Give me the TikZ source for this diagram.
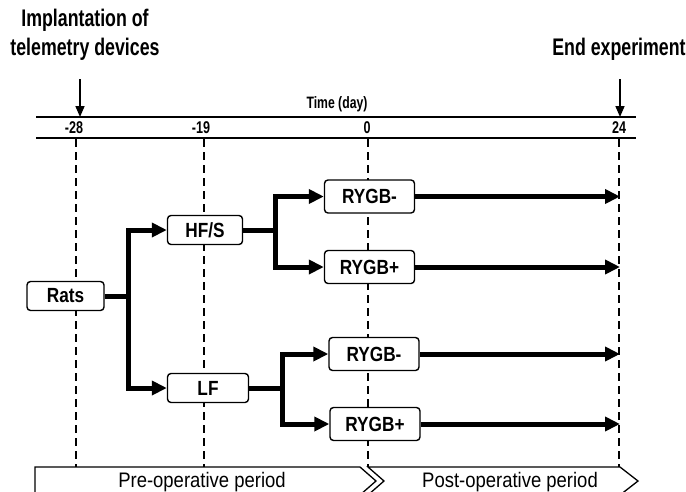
\documentclass[tikz,border=0pt]{standalone}
\usepackage{fontspec}
\setmainfont{Liberation Sans}[FakeStretch=0.84]
\newfontfamily\headfont{Liberation Sans}[FakeStretch=0.74]
\newfontfamily\periodfont{Liberation Sans}[FakeStretch=0.88]
\usetikzlibrary{arrows.meta}
\begin{document}
\begin{tikzpicture}[x=1pt,y=-1pt,
  box/.style={draw,fill=white,line width=1.4pt,rounded corners=3.5pt,font=\bfseries\fontsize{20.5}{20.5}\selectfont,inner sep=0pt},
  smallbox/.style={box,minimum height=29pt},
  rbox/.style={box,minimum width=90pt,minimum height=33pt},
  arr/.style={line width=5pt,-{Triangle[length=15pt,width=14pt]},line join=miter},
  thick5/.style={line width=5pt},
  vdash/.style={dash pattern=on 8pt off 5pt,line width=1.3pt},
  tline/.style={line width=2pt},
  head/.style={font=\headfont\bfseries\fontsize{24}{29}\selectfont,align=center,inner sep=0pt},
  tick/.style={font=\headfont\bfseries\fontsize{17}{17}\selectfont,inner sep=0pt},
  period/.style={font=\periodfont\fontsize{21}{21}\selectfont,inner sep=0pt},
  chev/.style={draw,line width=1.3pt,fill=white}]
\useasboundingbox (0,0) rectangle (686,491);
\clip (0,0) rectangle (686,491);
% timeline
\draw[tline] (36,117) -- (636,117);
\draw[tline] (36,138) -- (636,138);
\node[tick,font=\headfont\bfseries\fontsize{16.5}{16.5}\selectfont] (time) at (337,104) {Time (day)};
\node[tick] (t28) at (74,128) {-28};
\node[tick] (t19) at (201,128) {-19};
\node[tick] (t0) at (367,128) {0};
\node[tick] (t24) at (619,128) {24};
% dashed lines
\coordinate (d1a) at (76,139); \coordinate (d1b) at (76,467);
\coordinate (d2a) at (204,139); \coordinate (d2b) at (204,467);
\coordinate (d3a) at (368,139); \coordinate (d3b) at (368,467);
\coordinate (d4a) at (619,139); \coordinate (d4b) at (619,467);
\draw[vdash] (d1a) -- (d1b);
\draw[vdash] (d2a) -- (d2b);
\draw[vdash] (d3a) -- (d3b);
\draw[vdash] (d4a) -- (d4b);
% headings
\node[head] (impl) at (85,35) {Implantation of\\telemetry devices};
\node[head] (endx) at (619,49) {End experiment};
\coordinate (ia) at (80,79); \coordinate (ib) at (80,117);
\coordinate (ea) at (620,79); \coordinate (eb) at (620,117);
\draw[line width=1.6pt,-{Triangle[length=11pt,width=9pt]}] (ia) -- (ib);
\draw[line width=1.6pt,-{Triangle[length=11pt,width=9pt]}] (ea) -- (eb);
% nodes
\node[smallbox,minimum width=77pt] (rats) at (65.5,296) {Rats};
\node[smallbox,minimum width=75pt] (hfs) at (205,230) {HF/S};
\node[smallbox,minimum width=81pt] (lf) at (208,388) {LF};
\node[rbox] (r1) at (369.5,196.5) {RYGB-};
\node[rbox] (r2) at (369.5,267) {RYGB+};
\node[rbox] (r3) at (374,354) {RYGB-};
\node[rbox] (r4) at (375,424) {RYGB+};
% connectors
\coordinate (j1) at (128,296);
\coordinate (j2) at (275,230);
\coordinate (j3) at (282,388);
\draw[thick5] (rats.east) -- (j1);
\draw[arr] (j1) |- (hfs.west);
\draw[arr] (j1) |- (lf.west);
\draw[thick5] (hfs.east) -- (j2);
\draw[arr] (j2) |- (r1.west);
\draw[arr] (j2) |- (r2.west);
\draw[thick5] (lf.east) -- (j3);
\draw[arr] (j3) |- (r3.west);
\draw[arr] (j3) |- (r4.west);
\coordinate (e1) at (620,196.5);
\coordinate (e2) at (620,267);
\coordinate (e3) at (620,354);
\coordinate (e4) at (620,424);
\draw[arr] (r1.east) -- (e1);
\draw[arr] (r2.east) -- (e2);
\draw[arr] (r3.east) -- (e3);
\draw[arr] (r4.east) -- (e4);
% period chevrons
\draw[chev] (35,467) -- (360,467) -- (376,481) -- (360,495) -- (35,495) -- cycle;
\draw[chev] (368,467) -- (620,467) -- (638,481) -- (620,495) -- (368,495) -- (384,481) -- cycle;
\node[period] (pre) at (202,482) {Pre-operative period};
\node[period] (post) at (510,482) {Post-operative period};
\end{tikzpicture}
\end{document}
